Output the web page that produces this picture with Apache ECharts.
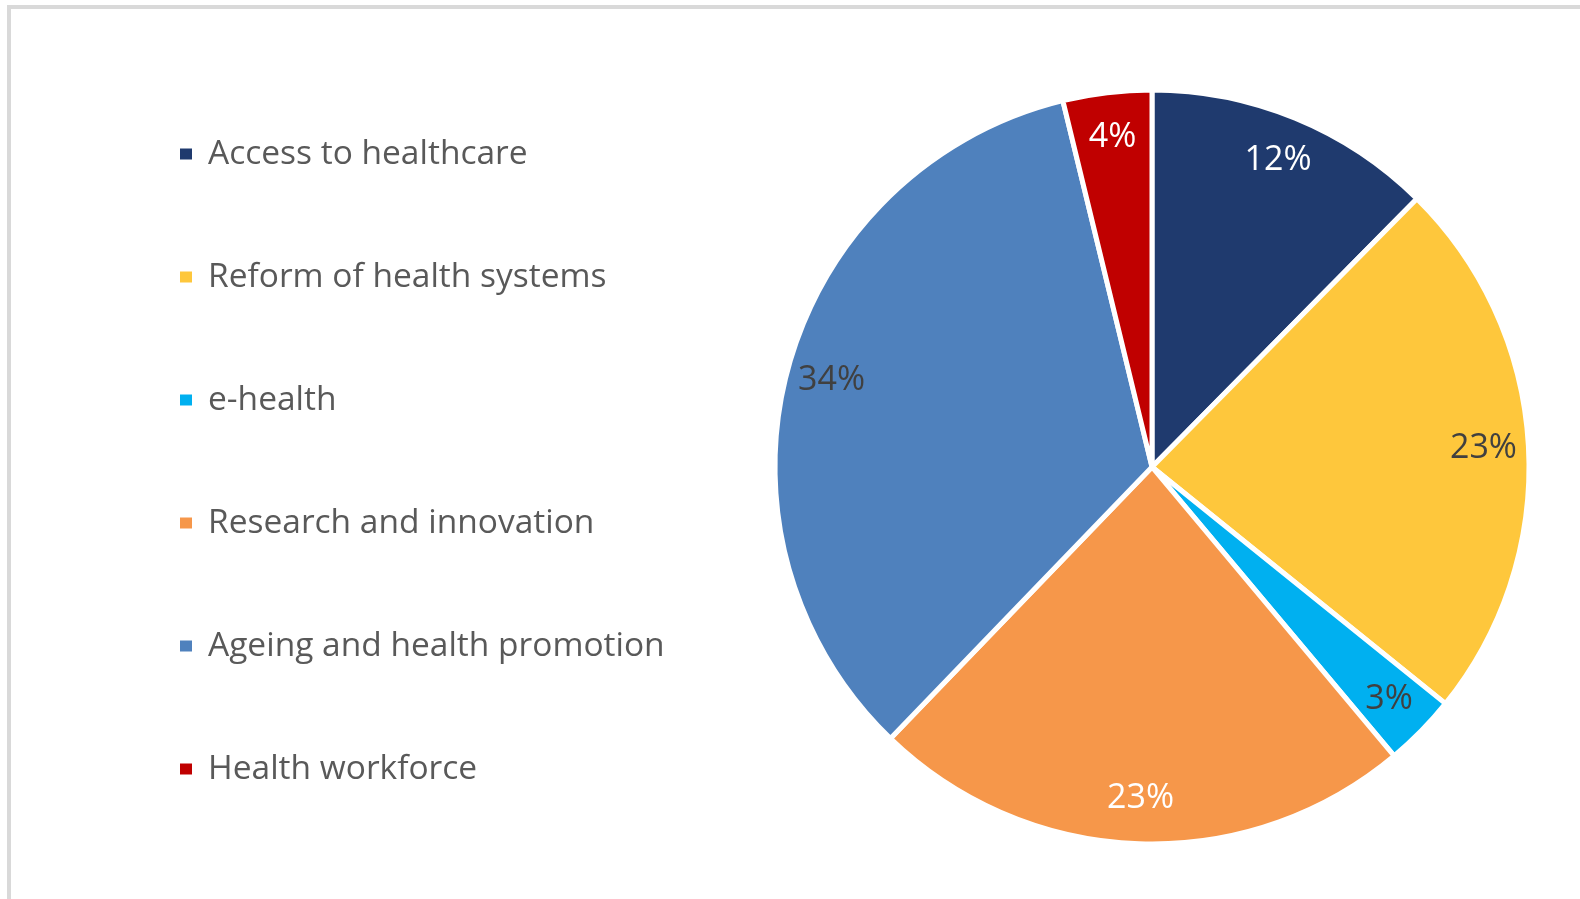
<!DOCTYPE html>
<html>
<head>
<meta charset="utf-8">
<script src="https://cdn.jsdelivr.net/npm/echarts@6/dist/echarts.min.js"></script>
<style>
html,body{margin:0;padding:0;background:#fff;}
#frame{position:absolute;left:7px;top:5px;width:1600px;height:920px;border-top:4px solid #d9d9d9;border-left:4px solid #d9d9d9;box-sizing:border-box;}
#chart{position:absolute;left:0;top:0;width:1580px;height:899px;}
</style>
</head>
<body>
<div id="frame"></div>
<div id="chart"></div>
<script>
const categories = ["Access to healthcare","Reform of health systems","e-health","Research and innovation","Ageing and health promotion","Health workforce"];
const shares = [12.4, 23.4, 3.1, 23.3, 34.0, 3.8];
const colors = ["#1f3a6e","#fec73c","#00b0f0","#f6974a","#4f81bd","#c00000"];
const labelColors = ["#ffffff","#404040","#404040","#ffffff","#404040","#ffffff"];

const FONT = "'Open Sans', 'Noto Sans', sans-serif";
const chart = echarts.init(document.getElementById('chart'), null, {renderer:'canvas'});

const mainData = categories.map((c,i)=>({name:c, value:shares[i], itemStyle:{color:colors[i]}}));
const labelData = categories.map((c,i)=>({name:c, value:shares[i], label:{color:labelColors[i]}}));

chart.setOption({
  animation:false,
  backgroundColor:'transparent',
  legend:{
    orient:'vertical',
    left:178, top:134,
    padding:0,
    data:categories,
    icon:'rect',
    itemWidth:14, itemHeight:13,
    itemGap:83,
    selectedMode:false,
    textStyle:{fontFamily:FONT, fontSize:33.5, color:'#595959', lineHeight:40, padding:[0,0,0,10]}
  },
  series:[
    {
      type:'pie',
      center:[1152,467],
      radius:[0,377],
      startAngle:90,
      clockwise:true,
      silent:true,
      label:{show:false},
      labelLine:{show:false},
      itemStyle:{borderColor:'#ffffff', borderWidth:5},
      data:mainData
    },
    {
      type:'pie',
      center:[1152,467],
      radius:[283,375],
      startAngle:90,
      clockwise:true,
      silent:true,
      itemStyle:{color:'rgba(0,0,0,0)'},
      labelLine:{show:false},
      label:{
        show:true, position:'inside',
        fontFamily:FONT, fontSize:34,
        formatter:p=>Math.round(p.percent)+'%'
      },
      data:labelData
    }
  ]
});
</script>
</body>
</html>
